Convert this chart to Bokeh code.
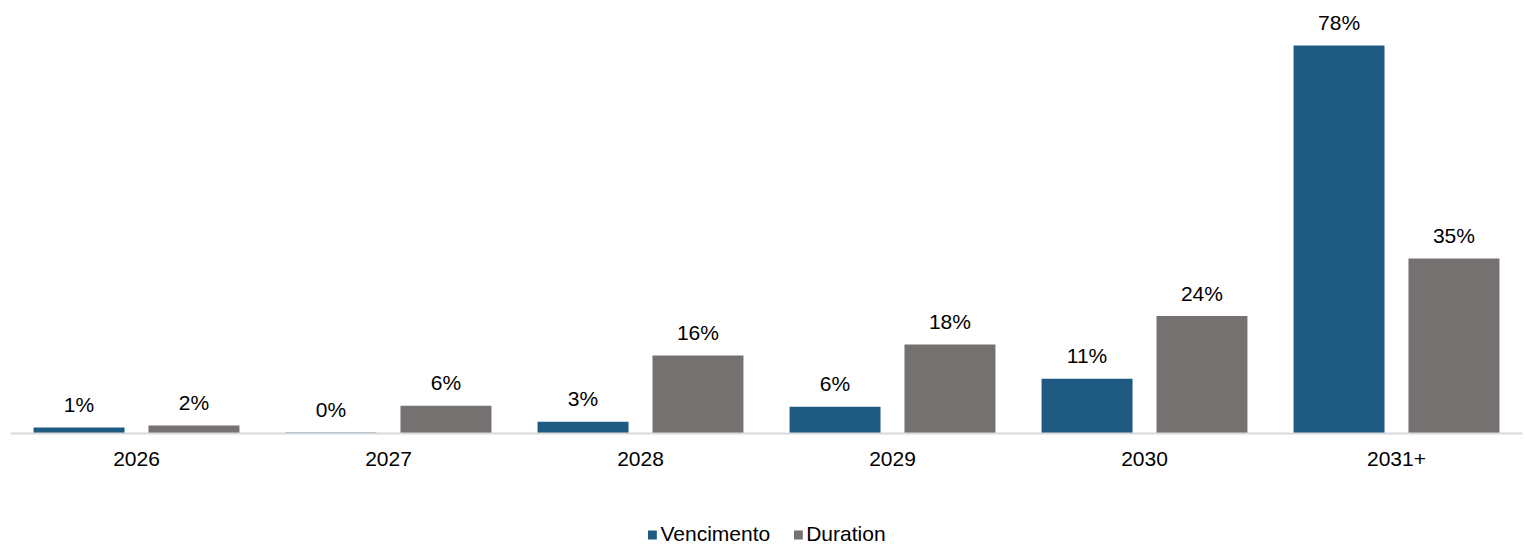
from bokeh.plotting import figure
from bokeh.models import ColumnDataSource, FactorRange, Range1d, Legend, LegendItem, Span
from bokeh.transform import dodge
from bokeh.core.properties import value
from bokeh.embed import file_html
from bokeh.resources import INLINE

categories = ["2026", "2027", "2028", "2029", "2030", "2031+"]
vencimento = [1.2, 0.2, 2.35, 5.4, 11.0, 78.0]
duration = [1.6, 5.6, 15.7, 17.9, 23.6, 35.2]
vencimento_labels = ["1%", "0%", "3%", "6%", "11%", "78%"]
duration_labels = ["2%", "6%", "16%", "18%", "24%", "35%"]

BLUE = "#1F5A82"
GRAY = "#767171"
FONT = "Liberation Sans"
FS = "21px"

src = ColumnDataSource(data=dict(
    cat=categories, ven=vencimento, dur=duration,
    ven_lbl=vencimento_labels, dur_lbl=duration_labels,
    zero=[0] * len(categories),
))

p = figure(
    x_range=FactorRange(factors=categories, range_padding=0),
    y_range=Range1d(-22.72, 87.05),
    width=1525, height=546,
    x_axis_location=None, y_axis_location=None,
    output_backend="svg", toolbar_location=None,
    min_border_left=10, min_border_right=3, min_border_top=0, min_border_bottom=0,
)
p.outline_line_color = None
p.background_fill_color = "white"
p.border_fill_color = "white"
p.xgrid.visible = False
p.ygrid.visible = False

off = 0.228
bw = 0.361
r1 = p.vbar(x=dodge("cat", -off, range=p.x_range), top="ven", width=bw, source=src,
            fill_color=BLUE, line_color=None)
r2 = p.vbar(x=dodge("cat", off, range=p.x_range), top="dur", width=bw, source=src,
            fill_color=GRAY, line_color=None)

# baseline (category axis line)
p.add_layout(Span(location=0, dimension="width", line_color="#D9D9D9", line_width=2))

# value labels
p.text(x=dodge("cat", -off, range=p.x_range), y="ven", text="ven_lbl", source=src,
       text_font=value(FONT), text_font_size=FS, text_color="#000000",
       text_align="center", text_baseline="alphabetic", y_offset=-23)
p.text(x=dodge("cat", off, range=p.x_range), y="dur", text="dur_lbl", source=src,
       text_font=value(FONT), text_font_size=FS, text_color="#000000",
       text_align="center", text_baseline="alphabetic", y_offset=-23)

# category labels
p.text(x="cat", y="zero", text="cat", source=src,
       text_font=value(FONT), text_font_size=FS, text_color="#000000",
       text_align="center", text_baseline="alphabetic", y_offset=26)

legend = Legend(items=[
    LegendItem(label="Vencimento", renderers=[r1]),
    LegendItem(label="Duration", renderers=[r2]),
], orientation="horizontal", location="bottom_center")
legend.label_text_font = FONT
legend.label_text_font_size = FS
legend.label_text_color = "#000000"
legend.glyph_width = 11
legend.glyph_height = 11
legend.label_standoff = 3
legend.spacing = 22
legend.padding = 0
legend.margin = 0
legend.border_line_color = None
legend.background_fill_alpha = 0
p.add_layout(legend)

open("out.html", "w").write(file_html(p, INLINE))
